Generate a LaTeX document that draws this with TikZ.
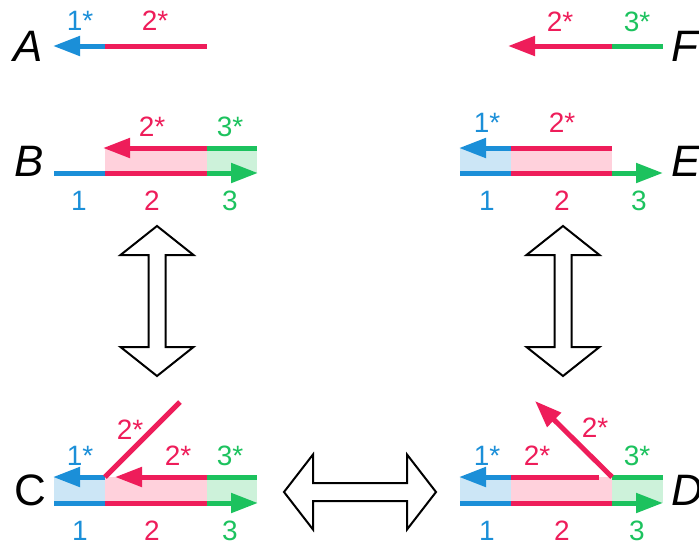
\documentclass[tikz,border=0pt]{standalone}
\usepackage{fontspec}
\setmainfont{Liberation Sans}
\usetikzlibrary{arrows.meta}
\definecolor{cb}{HTML}{1B8FD8}
\definecolor{cr}{HTML}{EE1D5A}
\definecolor{cg}{HTML}{1CC25E}
\definecolor{lb}{HTML}{CCE6F6}
\definecolor{lr}{HTML}{FFD1DC}
\definecolor{lg}{HTML}{CDF2DA}
\tikzset{
  strand/.style={line width=5pt},
  tipped/.style={-{Triangle[length=27pt,width=19pt]}},
  lab/.style={font=\fontsize{28}{28}\selectfont, inner sep=0pt},
  big/.style={font=\fontsize{44}{44}\selectfont\itshape, inner sep=0pt},
  hollow/.style={draw=black, line width=2pt, fill=white, line join=miter},
}
\begin{document}
\begin{tikzpicture}[x=1pt,y=-1pt]
\useasboundingbox (0,0) rectangle (699,544);
% ---------------- A ----------------
\node[big] (A) at (28,46) {A};
\coordinate (a1) at (53,46); \coordinate (a2) at (105,46); \coordinate (a3) at (207,46);
\draw[strand,cr] (a2) -- (a3);
\draw[strand,cb,tipped] (a2) -- (a1);
\node[lab,cb] (lA1) at (80,21) {1*};
\node[lab,cr] (lA2) at (155,21) {2*};
% ---------------- F ----------------
\node[big,anchor=west] (F) at (671,46) {F};
\coordinate (f1) at (508,46); \coordinate (f2) at (612,46); \coordinate (f3) at (663,46);
\draw[strand,cg] (f2) -- (f3);
\draw[strand,cr,tipped] (f2) -- (f1);
\node[lab,cr] (lF2) at (560,22) {2*};
\node[lab,cg] (lF3) at (637,22) {3*};
% ---------------- B ----------------
\node[big] (B) at (29,161) {B};
\fill[lr] (105,148) rectangle (207,173);
\fill[lg] (207,148) rectangle (257,173);
\coordinate (bt1) at (103,148); \coordinate (bt2) at (207,148); \coordinate (bt3) at (257,148);
\coordinate (bb0) at (54,173); \coordinate (bb1) at (105,173); \coordinate (bb2) at (207,173); \coordinate (bb3) at (258,173);
\draw[strand,cg] (bt2) -- (bt3);
\draw[strand,cr,tipped] (bt2) -- (bt1);
\draw[strand,cb] (bb0) -- (bb1);
\draw[strand,cr] (bb1) -- (bb2);
\draw[strand,cg,tipped] (bb2) -- (bb3);
\node[lab,cr] (lB2s) at (152,127) {2*};
\node[lab,cg] (lB3s) at (230,127) {3*};
\node[lab,cb] (lB1) at (79,201) {1};
\node[lab,cr] (lB2) at (152,201) {2};
\node[lab,cg] (lB3) at (230,201) {3};
% ---------------- E ----------------
\node[big,anchor=west] (E) at (671,161) {E};
\fill[lb] (460,148) rectangle (511,173);
\fill[lr] (511,148) rectangle (612,173);
\coordinate (et1) at (459,148); \coordinate (et2) at (511,148); \coordinate (et3) at (612,148);
\coordinate (eb0) at (460,173); \coordinate (eb1) at (511,173); \coordinate (eb2) at (612,173); \coordinate (eb3) at (663,173);
\draw[strand,cr] (et2) -- (et3);
\draw[strand,cb,tipped] (et2) -- (et1);
\draw[strand,cb] (eb0) -- (eb1);
\draw[strand,cr] (eb1) -- (eb2);
\draw[strand,cg,tipped] (eb2) -- (eb3);
\node[lab,cb] (lE1s) at (487,123) {1*};
\node[lab,cr] (lE2s) at (562,123) {2*};
\node[lab,cb] (lE1) at (487,201) {1};
\node[lab,cr] (lE2) at (562,201) {2};
\node[lab,cg] (lE3) at (639,201) {3};
% ---------------- C ----------------
\node[big,font=\fontsize{44}{44}\selectfont\upshape] (C) at (30,490) {C};
\fill[lb] (54,477) rectangle (105,503);
\fill[lr] (105,477) rectangle (207,503);
\fill[lg] (207,477) rectangle (257,503);
\coordinate (ct0) at (53,477); \coordinate (ct1) at (105,477); \coordinate (ct1b) at (115,477);
\coordinate (ct2) at (207,477); \coordinate (ct3) at (257,477);
\coordinate (cd) at (180,402);
\coordinate (cb0) at (54,503); \coordinate (cb1) at (105,503); \coordinate (cb2) at (207,503); \coordinate (cb3) at (258,503);
\draw[strand,cg] (ct2) -- (ct3);
\draw[strand,cr,tipped] (ct2) -- (ct1b);
\draw[strand,cb,tipped] (ct1) -- (ct0);
\draw[strand,cr] (ct1) -- (cd);
\draw[strand,cb] (cb0) -- (cb1);
\draw[strand,cr] (cb1) -- (cb2);
\draw[strand,cg,tipped] (cb2) -- (cb3);
\node[lab,cr] (lCd) at (130,430) {2*};
\node[lab,cb] (lC1s) at (80,456) {1*};
\node[lab,cr] (lC2s) at (178,456) {2*};
\node[lab,cg] (lC3s) at (230,456) {3*};
\node[lab,cb] (lC1) at (80,531) {1};
\node[lab,cr] (lC2) at (152,531) {2};
\node[lab,cg] (lC3) at (230,531) {3};
% ---------------- D ----------------
\node[big,anchor=west] (D) at (671,490) {D};
\fill[lb] (460,477) rectangle (511,503);
\fill[lr] (511,477) rectangle (612,503);
\fill[lg] (612,477) rectangle (663,503);
\coordinate (dt0) at (459,477); \coordinate (dt1) at (511,477); \coordinate (dt2) at (599,477);
\coordinate (dt3) at (612,477); \coordinate (dt4) at (663,477);
\coordinate (dd) at (535,401);
\coordinate (db0) at (460,503); \coordinate (db1) at (511,503); \coordinate (db2) at (612,503); \coordinate (db3) at (663,503);
\draw[strand,cr] (dt1) -- (dt2);
\draw[strand,cg] (dt3) -- (dt4);
\draw[strand,cb,tipped] (dt1) -- (dt0);
\draw[strand,cr,tipped] (dt3) -- (dd);
\draw[strand,cb] (db0) -- (db1);
\draw[strand,cr] (db1) -- (db2);
\draw[strand,cg,tipped] (db2) -- (db3);
\node[lab,cr] (lDd) at (595,428) {2*};
\node[lab,cb] (lD1s) at (487,456) {1*};
\node[lab,cr] (lD2s) at (537,456) {2*};
\node[lab,cg] (lD3s) at (637,456) {3*};
\node[lab,cb] (lD1) at (487,531) {1};
\node[lab,cr] (lD2) at (562,531) {2};
\node[lab,cg] (lD3) at (637,531) {3};
% ---------------- hollow arrows ----------------
\foreach \c in {157,563}{
  \draw[hollow] (\c,226) -- (\c+36.5,255) -- (\c+8.5,255) -- (\c+8.5,347) -- (\c+36.5,347)
    -- (\c,376) -- (\c-36.5,347) -- (\c-8.5,347) -- (\c-8.5,255) -- (\c-36.5,255) -- cycle;
}
\draw[hollow] (284,492) -- (313,454.5) -- (313,483) -- (407,483) -- (407,454.5) -- (436,492)
  -- (407,529.5) -- (407,501) -- (313,501) -- (313,529.5) -- cycle;
\end{tikzpicture}
\end{document}
